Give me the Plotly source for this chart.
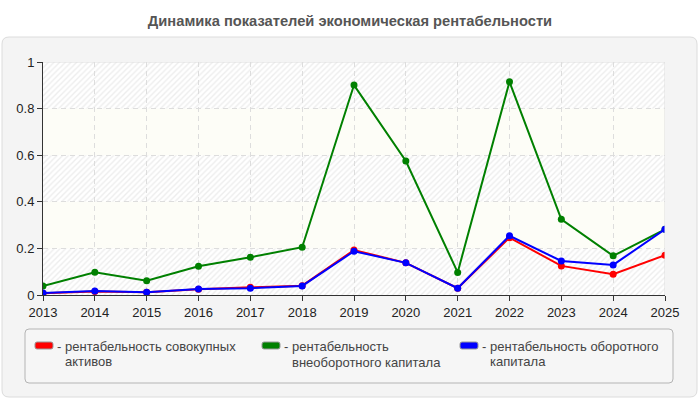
import plotly.graph_objects as go

years = list(range(2013, 2026))
red_vals = [0.008, 0.015, 0.012, 0.025, 0.033, 0.040, 0.193, 0.138, 0.029, 0.246, 0.125, 0.089, 0.171]
green_vals = [0.039, 0.098, 0.061, 0.123, 0.162, 0.205, 0.901, 0.575, 0.097, 0.915, 0.325, 0.168, 0.282]
blue_vals = [0.009, 0.017, 0.012, 0.026, 0.029, 0.039, 0.188, 0.138, 0.029, 0.254, 0.146, 0.129, 0.282]
y_ticks = [0, 0.2, 0.4, 0.6, 0.8, 1]
title_text = "Динамика показателей экономическая рентабельности"
names = ["рентабельность совокупных активов",
         "рентабельность внеоборотного капитала",
         "рентабельность оборотного капитала"]
colors = ["#ff0000", "#008000", "#0000ff"]

W, H = 700, 400
L, R, T, B = 43, 665, 62, 295  # plot area in pixels
FONT = "Arial, Liberation Sans, sans-serif"


def px(X):
    return (X - L) / (R - L)


def py(Y):
    return (B - Y) / (B - T)


def rrect(x0, y0, x1, y1, r):
    a, b, c, d = px(x0), px(x1), py(y0), py(y1)
    rx, ry = r / (R - L), r / (B - T)
    return (f"M {a+rx},{c} L {b-rx},{c} Q {b},{c} {b},{c-ry} "
            f"L {b},{d+ry} Q {b},{d} {b-rx},{d} L {a+rx},{d} "
            f"Q {a},{d} {a},{d+ry} L {a},{c-ry} Q {a},{c} {a+rx},{c} Z")


fig = go.Figure()

# hatched bands
for i in range(0, len(y_ticks) - 1, 2):
    lo, hi = y_ticks[i], y_ticks[i + 1]
    fig.add_trace(go.Scatter(
        x=[years[0], years[-1], years[-1], years[0], years[0]],
        y=[lo, lo, hi, hi, lo], fill="toself", mode="none",
        fillcolor="rgba(255,255,255,0)",
        fillpattern=dict(shape="/", fgcolor="#dcdcdc", bgcolor="rgba(255,255,255,0)",
                         size=4, solidity=0.35),
        hoverinfo="skip", showlegend=False))

for vals, c, n in zip([red_vals, green_vals, blue_vals], colors, names):
    fig.add_trace(go.Scatter(x=years, y=vals, mode="lines+markers", name=n,
                             line=dict(color=c, width=2),
                             marker=dict(color=c, size=7), showlegend=False))

shapes = []
# panel
shapes.append(dict(type="path", xref="paper", yref="paper", path=rrect(2, 37, 697, 397, 7),
                   fillcolor="#f4f4f4", line=dict(color="#dcdcdc", width=1), layer="below"))
# plot area white
shapes.append(dict(type="rect", xref="x", yref="y", x0=years[0], x1=years[-1], y0=0, y1=1,
                   fillcolor="#ffffff", line=dict(width=0), layer="below"))
# cream bands
for i in range(1, len(y_ticks) - 1, 2):
    shapes.append(dict(type="rect", xref="x", yref="y", x0=years[0], x1=years[-1],
                       y0=y_ticks[i], y1=y_ticks[i + 1],
                       fillcolor="#fdfdf7", line=dict(width=0), layer="below"))
# top and right frame
shapes.append(dict(type="line", xref="x", yref="y", x0=years[0], x1=years[-1], y0=1, y1=1,
                   line=dict(color="#dddddd", width=1)))
shapes.append(dict(type="line", xref="x", yref="y", x0=years[-1], x1=years[-1], y0=0, y1=1,
                   line=dict(color="#dddddd", width=1)))
# legend box
shapes.append(dict(type="path", xref="paper", yref="paper", path=rrect(25, 329, 673, 383, 4),
                   fillcolor="#f6f6f6", line=dict(color="#b4b4b4", width=1), layer="below"))

annotations = []
legend_items = [
    (35, ["рентабельность совокупных", "активов"], [346, 361]),
    (262, ["рентабельность", "внеоборотного капитала"], [346, 362]),
    (460, ["рентабельность оборотного", "капитала"], [346, 361]),
]
for (sx, lines, ys), c in zip(legend_items, colors):
    shapes.append(dict(type="path", xref="paper", yref="paper",
                       path=rrect(sx, 342, sx + 18, 349, 2),
                       fillcolor=c, line=dict(color="#999999", width=1)))
    annotations.append(dict(xref="paper", yref="paper", x=px(sx + 20), y=py(ys[0]),
                            text="-", showarrow=False, xanchor="left", yanchor="middle",
                            font=dict(family=FONT, size=13, color="#444444")))
    for t, yy in zip(lines, ys):
        annotations.append(dict(xref="paper", yref="paper", x=px(sx + 28), y=py(yy),
                                text=t, showarrow=False, xanchor="left", yanchor="middle",
                                font=dict(family=FONT, size=13, color="#444444")))

fig.update_layout(
    width=W, height=H,
    margin=dict(l=L, r=W - R, t=T, b=H - B),
    paper_bgcolor="#ffffff", plot_bgcolor="rgba(0,0,0,0)",
    title=dict(text=f"<b>{title_text}</b>", x=0.5, xref="container", xanchor="center",
               y=1 - 21 / H, yref="container", yanchor="middle",
               font=dict(family=FONT, size=14.7, color="#555555")),
    shapes=shapes, annotations=annotations, showlegend=False,
    xaxis=dict(range=[years[0], years[-1]], tickvals=years, ticks="outside", ticklen=5,
               tickcolor="#333333", showline=True, linecolor="#333333", linewidth=1,
               showgrid=True, gridcolor="#dddddd", griddash="5px,4px", zeroline=False,
               tickfont=dict(family=FONT, size=13, color="#222222")),
    yaxis=dict(range=[0, 1], tickvals=y_ticks, ticks="outside", ticklen=5,
               tickcolor="#333333", showline=True, linecolor="#333333", linewidth=1,
               showgrid=True, gridcolor="#dddddd", griddash="5px,4px", zeroline=False,
               tickfont=dict(family=FONT, size=13, color="#222222")),
)

fig.write_html("out.html")
